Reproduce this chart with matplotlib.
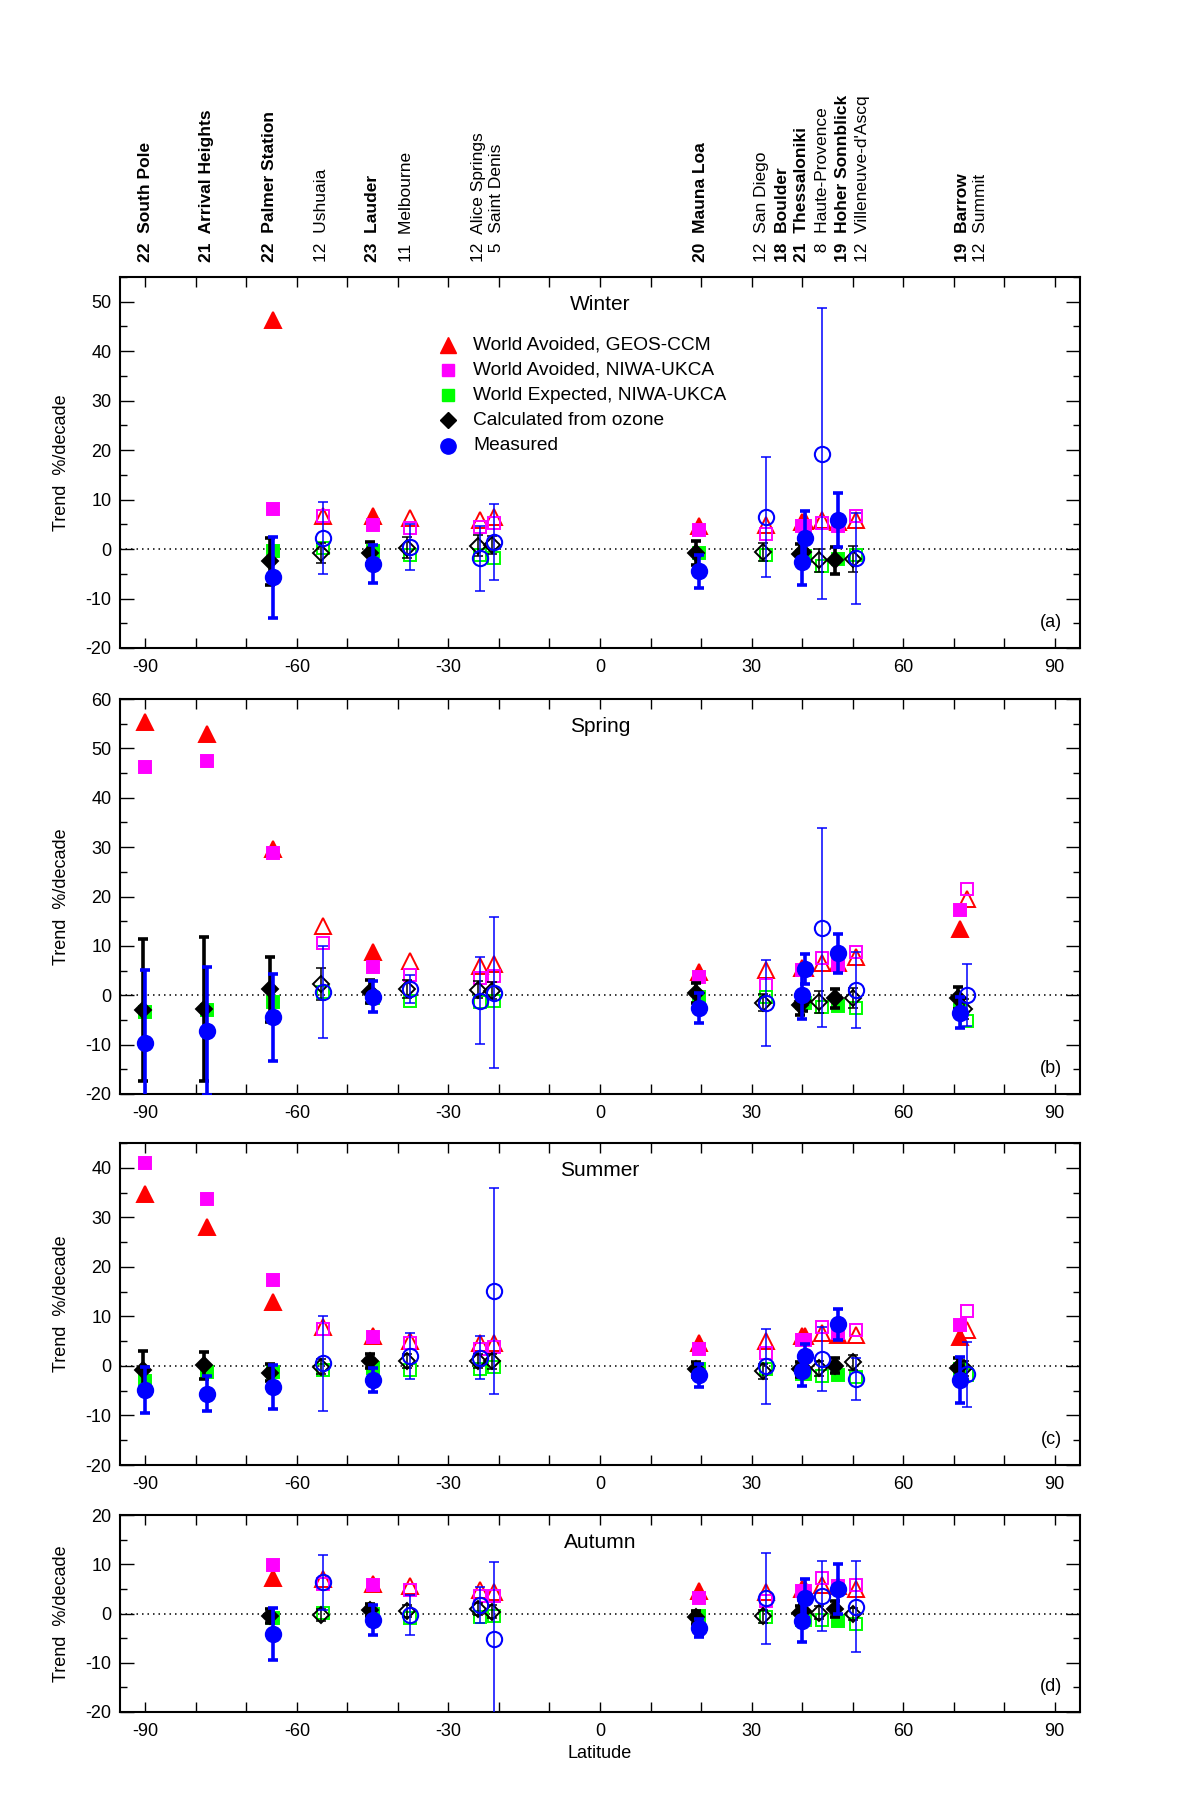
import numpy as np
import matplotlib
matplotlib.use("Agg")
import matplotlib.pyplot as plt
from matplotlib.ticker import MultipleLocator
import matplotlib.transforms as mtransforms

plt.rcParams['font.family'] = ['Liberation Sans', 'DejaVu Sans']
plt.rcParams['axes.unicode_minus'] = False

nan = np.nan

# ---------------- stations ----------------
stations = ["South Pole", "Arrival Heights", "Palmer Station", "Ushuaia", "Lauder",
            "Melbourne", "Alice Springs", "Saint Denis", "Mauna Loa", "San Diego",
            "Boulder", "Thessaloniki", "Haute-Provence", "Hoher Sonnblick",
            "Villeneuve-d'Ascq", "Barrow", "Summit"]
latitudes = [-90.0, -77.8, -64.8, -54.8, -45.0, -37.7, -23.7, -20.9, 19.5, 32.8,
             40.0, 40.6, 43.9, 47.1, 50.6, 71.3, 72.6]
years = [22, 21, 22, 12, 23, 11, 12, 5, 20, 12, 18, 21, 8, 19, 12, 19, 12]
bold_station = [1, 1, 1, 0, 1, 0, 0, 0, 1, 0, 1, 1, 0, 1, 0, 1, 0]
label_lat = [-90.0, -77.8, -65.4, -55.2, -45.1, -38.3, -24.1, -20.5, 19.9, 32.0,
             36.1, 39.8, 44.0, 48.0, 51.9, 71.7, 75.3]

# ---------------- data (% / decade) ----------------
# Winter
win_geos = [nan, nan, 46.3, 6.7, 6.6, 6.3, 5.9, 6.5, 4.6, 4.9, 5.4, 5.6, 5.8, 5.5, 5.9, nan, nan]
win_niwa_avoid = [nan, nan, 8.1, 6.6, 4.8, 4.2, 4.4, 5.3, 3.9, 3.1, 4.7, 4.7, 5.3, 4.6, 6.6, nan, nan]
win_niwa_exp = [nan, nan, -0.3, 0.2, -0.3, -1.1, -1.3, -1.8, -0.8, -1.3, -1.5, -1.5, -3.5, -2.0, -1.3, nan, nan]
win_calc = [nan, nan, -2.5, -0.8, -0.8, 0.3, 0.7, 0.9, -0.8, -0.6, -0.9, -0.5, -2.3, -2.3, -2.0, nan, nan]
win_calc_err = [nan, nan, 4.8, 2.0, 2.3, 2.2, 2.2, 1.8, 2.5, 1.8, 2.0, 2.0, 2.3, 2.7, 2.7, nan, nan]
win_meas = [nan, nan, -5.7, 2.2, -3.0, 0.4, -1.9, 1.5, -4.5, 6.5, -2.6, 2.2, 19.3, 5.9, -1.9, nan, nan]
win_meas_err = [nan, nan, 8.2, 7.3, 3.8, 4.7, 6.5, 7.7, 3.4, 12.2, 4.6, 5.4, 29.4, 5.5, 9.2, nan, nan]
# Spring
spr_geos = [55.3, 52.9, 29.7, 14.0, 8.8, 7.0, 5.9, 6.3, 4.8, 5.1, 5.5, 5.5, 6.6, 6.5, 7.8, 13.5, 19.4]
spr_niwa_avoid = [46.3, 47.5, 28.9, 10.5, 5.7, 4.1, 3.4, 3.9, 3.6, 2.1, 5.1, 5.1, 7.6, 6.1, 8.7, 17.2, 21.5]
spr_niwa_exp = [-3.3, -3.0, -1.3, 0.7, -0.6, -1.1, -1.3, -1.1, -0.3, -0.4, -1.6, -1.6, -2.3, -2.2, -2.6, -3.0, -5.2]
spr_calc = [-3.0, -2.8, 1.2, 2.3, 0.7, 1.2, 1.1, 0.9, 0.4, -1.5, -2.0, -1.2, -1.3, -0.6, -0.6, -0.6, -2.8]
spr_calc_err = [14.4, 14.5, 6.6, 3.3, 2.3, 1.8, 1.7, 1.7, 2.0, 1.7, 2.0, 2.0, 2.2, 1.9, 2.0, 2.2, 2.0]
spr_meas = [-9.6, -7.2, -4.5, 0.7, -0.3, 1.3, -1.1, 0.5, -2.6, -1.6, 0.1, 5.3, 13.7, 8.5, 1.1, -3.5, 0.1]
spr_meas_err = [14.7, 13.0, 8.9, 9.3, 3.1, 2.9, 8.8, 15.3, 3.0, 8.7, 5.0, 3.0, 20.2, 4.0, 7.7, 3.2, 6.3]
# Summer
sum_geos = [34.8, 28.0, 13.0, 7.9, 6.1, 5.1, 4.6, 4.6, 4.6, 5.1, 6.1, 6.1, 6.6, 6.3, 6.3, 5.9, 7.3]
sum_niwa_avoid = [40.9, 33.6, 17.4, 7.4, 5.9, 4.7, 3.5, 3.9, 3.4, 2.7, 5.3, 5.3, 7.9, 6.6, 7.3, 8.2, 11.0]
sum_niwa_exp = [-3.0, -1.2, -1.2, -0.8, -0.5, -0.9, -0.7, -0.2, -0.7, -0.7, -1.6, -1.6, -2.0, -1.9, -2.2, -0.7, -1.9]
sum_calc = [-0.8, 0.1, -1.4, -0.2, 1.0, 1.0, 1.0, 0.9, -0.7, -1.1, -0.7, -0.5, -0.5, 0.0, 0.7, -0.5, -0.5]
sum_calc_err = [3.8, 2.8, 1.7, 1.5, 1.5, 1.5, 1.5, 1.5, 1.5, 1.5, 1.5, 1.5, 1.5, 1.5, 1.5, 2.2, 1.5]
sum_meas = [-4.9, -5.6, -4.2, 0.5, -2.8, 2.0, 1.7, 15.2, -1.9, -0.1, -1.1, 2.0, 1.4, 8.4, -2.6, -2.8, -1.7]
sum_meas_err = [4.7, 3.5, 4.4, 9.5, 2.4, 4.7, 4.4, 20.8, 2.3, 7.6, 2.9, 2.5, 6.4, 3.1, 4.2, 4.6, 6.5]
# Autumn
aut_geos = [nan, nan, 7.3, 7.0, 6.0, 5.5, 4.8, 4.4, 4.6, 4.4, 5.0, 5.0, 5.8, 5.5, 5.0, nan, nan]
aut_niwa_avoid = [nan, nan, 9.8, 6.0, 5.8, 4.8, 3.6, 3.6, 3.1, 2.6, 4.6, 4.6, 7.3, 5.5, 5.8, nan, nan]
aut_niwa_exp = [nan, nan, -1.0, 0.2, -0.1, -1.0, -0.7, -0.5, -0.5, -0.8, -1.3, -1.3, -1.3, -1.5, -2.2, nan, nan]
aut_calc = [nan, nan, -0.5, -0.3, 0.7, 0.5, 0.9, 0.4, -0.8, -0.6, 0.2, 0.5, 0.2, 0.9, -0.1, nan, nan]
aut_calc_err = [nan, nan, 1.5, 1.3, 1.3, 1.3, 1.3, 1.3, 1.3, 1.3, 1.3, 1.3, 1.3, 1.7, 1.3, nan, nan]
aut_meas = [nan, nan, -4.2, 6.3, -1.3, -0.3, 1.7, -5.2, -2.9, 3.1, -1.5, 3.1, 3.6, 5.0, 1.4, nan, nan]
aut_meas_err = [nan, nan, 5.3, 5.5, 3.0, 4.1, 3.7, 15.6, 1.8, 9.2, 4.2, 4.0, 7.1, 5.0, 9.3, nan, nan]

season_names = ["Winter", "Spring", "Summer", "Autumn"]
panel_letters = ["(a)", "(b)", "(c)", "(d)"]
season_data = [
    (win_geos, win_niwa_avoid, win_niwa_exp, win_calc, win_calc_err, win_meas, win_meas_err),
    (spr_geos, spr_niwa_avoid, spr_niwa_exp, spr_calc, spr_calc_err, spr_meas, spr_meas_err),
    (sum_geos, sum_niwa_avoid, sum_niwa_exp, sum_calc, sum_calc_err, sum_meas, sum_meas_err),
    (aut_geos, aut_niwa_avoid, aut_niwa_exp, aut_calc, aut_calc_err, aut_meas, aut_meas_err),
]
y_limits = [(-20, 55), (-20, 60), (-20, 45), (-20, 20)]
legend_labels = ["World Avoided, GEOS-CCM", "World Avoided, NIWA-UKCA",
                 "World Expected, NIWA-UKCA", "Calculated from ozone", "Measured"]

# ---------------- styles ----------------
RED, MAG, GRN, BLK, BLU = "#ff0000", "#ff00ff", "#00ff00", "#000000", "#0000ff"
series_style = [
    dict(marker="^", ms=11.5, color=RED),
    dict(marker="s", ms=8.8, color=MAG),
    dict(marker="s", ms=8.8, color=GRN),
    dict(marker="D", ms=8.3, color=BLK),
    dict(marker="o", ms=11.0, color=BLU),
]
TS = 13

# axes rectangles in pixels (top, bottom) in a 1200x1800 figure
W, H = 1200.0, 1800.0
ax_px = [(277, 648), (699, 1094), (1143, 1465), (1515, 1712)]
left_px, right_px = 120, 1080

fig = plt.figure(figsize=(12, 18), dpi=100)

lat_arr = np.array(latitudes)
bold_arr = np.array(bold_station, dtype=bool)
groups = [(bold_arr, True), (~bold_arr, False)]

for k in range(4):
    top, bot = ax_px[k]
    ax = fig.add_axes([left_px / W, 1 - bot / H, (right_px - left_px) / W, (bot - top) / H])
    ax.set_xlim(-95, 95)
    ax.set_ylim(*y_limits[k])
    ax.axhline(0, color="k", lw=1.1, ls=(0, (1, 2.6)), zorder=1)

    geos, na, ne, calc, calc_err, meas, meas_err = [np.array(v, dtype=float) for v in season_data[k]]
    vals_list = [geos, na, ne]
    for mask, filled in groups:
        for s, vals in enumerate(vals_list):
            st = series_style[s]
            ax.plot(lat_arr[mask], vals[mask], ls="none", marker=st["marker"], ms=st["ms"],
                    mfc=st["color"] if filled else "none", mec=st["color"],
                    mew=1.4, zorder=3 + s * 0.1)
        elw = 2.6 if filled else 1.1
        ax.errorbar(lat_arr[mask] - 0.5, calc[mask], yerr=calc_err[mask], fmt="none",
                    ecolor=BLK, elinewidth=elw, capsize=3.5, capthick=elw, zorder=4)
        st = series_style[3]
        ax.plot(lat_arr[mask] - 0.5, calc[mask], ls="none", marker=st["marker"], ms=st["ms"],
                mfc=BLK if filled else "none", mec=BLK, mew=1.4, zorder=4.1)
        ax.errorbar(lat_arr[mask], meas[mask], yerr=meas_err[mask], fmt="none",
                    ecolor=BLU, elinewidth=elw, capsize=3.5, capthick=elw, zorder=5)
        st = series_style[4]
        ax.plot(lat_arr[mask], meas[mask], ls="none", marker=st["marker"], ms=st["ms"],
                mfc=BLU if filled else "none", mec=BLU, mew=1.5, zorder=5.1)

    ax.xaxis.set_major_locator(MultipleLocator(30))
    ax.xaxis.set_minor_locator(MultipleLocator(10))
    ax.yaxis.set_major_locator(MultipleLocator(10))
    ax.yaxis.set_minor_locator(MultipleLocator(5))
    ax.tick_params(which="both", direction="in", top=True, right=True, labelsize=TS, width=1)
    ax.tick_params(axis="x", which="both", length=7, pad=8)
    ax.tick_params(axis="y", which="major", length=10, pad=6)
    ax.tick_params(axis="y", which="minor", length=5)
    for sp in ax.spines.values():
        sp.set_linewidth(1.5)

    ax.set_ylabel("Trend  %/decade", fontsize=TS)
    ax.yaxis.set_label_coords((61 - left_px) / (right_px - left_px), 0.5)
    ax.yaxis.label.set_va("center")

    ax.annotate(season_names[k], xy=(0.5, 1), xycoords="axes fraction",
                xytext=(0, -19.5), textcoords="offset points", ha="center", va="center",
                fontsize=15)
    ax.annotate(panel_letters[k], xy=(1, 0), xycoords="axes fraction",
                xytext=(-13, 18.5), textcoords="offset points", ha="right", va="center",
                fontsize=TS)

    if k == 0:
        trans = mtransforms.blended_transform_factory(ax.transData, ax.transAxes)
        yb = 1 + (top - 262) / (bot - top)
        for i, name in enumerate(stations):
            txt = f"{years[i]:d}  {name}" if years[i] >= 10 else f"  {years[i]:d}  {name}"
            ax.text(label_lat[i], yb, txt, transform=trans, rotation=90, ha="center",
                    va="bottom", fontsize=12.5,
                    fontweight="bold" if bold_station[i] else "normal")
        h_ax = bot - top
        xm = (448 - left_px) / (right_px - left_px)
        xt = (473 - left_px) / (right_px - left_px)
        for j, lab in enumerate(legend_labels):
            yy = 1 - (344.5 - top + j * 25.3) / h_ax
            st = series_style[j]
            ax.plot([xm], [yy], transform=ax.transAxes, ls="none", marker=st["marker"],
                    ms=st["ms"] if j not in (1, 2) else 8.3, mfc=st["color"], mec=st["color"],
                    clip_on=False)
            ax.text(xt, yy, lab, transform=ax.transAxes, ha="left", va="center", fontsize=13.8)

    if k == 3:
        ax.set_xlabel("Latitude", fontsize=TS)
        ax.xaxis.set_label_coords(0.5, -(1754 - bot) / (bot - top))
        ax.xaxis.label.set_va("center")

fig.savefig("out.png", dpi=100)
